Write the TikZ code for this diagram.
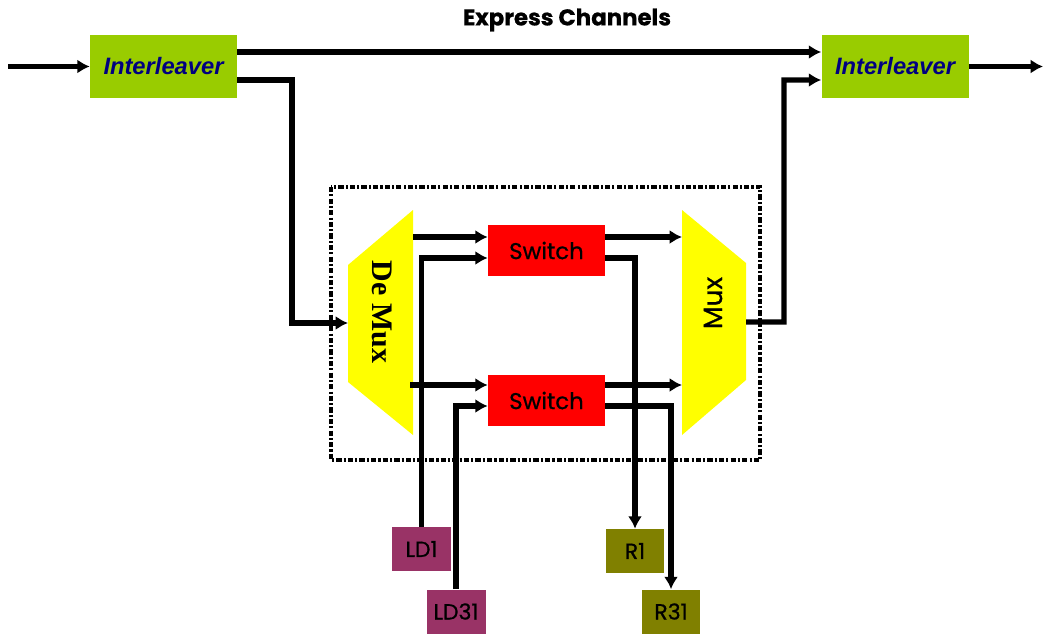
\documentclass[tikz,border=0pt]{standalone}
\usepackage{fontspec}
\setmainfont{Liberation Serif}
\newfontfamily\gothic[FakeBold=0.7]{Poppins}
\newfontfamily\arialfont{Liberation Sans}
\usetikzlibrary{arrows.meta}

\definecolor{ilgreen}{HTML}{99CC00}
\definecolor{ilblue}{HTML}{000080}
\definecolor{swred}{HTML}{FF0000}
\definecolor{muxyellow}{HTML}{FFFF00}
\definecolor{ldpurple}{HTML}{993366}
\definecolor{rolive}{HTML}{808000}

\begin{document}
\begin{tikzpicture}[
    x=0.02cm, y=-0.02cm,
    conn/.style={line width=3pt, -{Latex[length=7pt,width=8pt]}},
    ileave/.style={fill=ilgreen, inner sep=0pt, minimum width=2.94cm, minimum height=1.26cm, font=\arialfont\bfseries\itshape\fontsize{13.5}{15}\selectfont, text=ilblue},
    switchbox/.style={fill=swred, inner sep=0pt, minimum width=2.34cm, minimum height=1.02cm, font=\gothic\fontsize{13}{15}\selectfont},
    ldbox/.style={fill=ldpurple, inner sep=0pt, minimum width=1.18cm, minimum height=0.88cm, font=\gothic\fontsize{12.5}{14}\selectfont},
    rbox/.style={fill=rolive, inner sep=0pt, minimum width=1.16cm, minimum height=0.88cm, font=\gothic\fontsize{12.5}{14}\selectfont},
    frame/.style={line width=2.2pt, dash pattern=on 3pt off 1.2pt on 1.2pt off 1.2pt}
]
\useasboundingbox (0,0) rectangle (1043,635);

\node[font=\arialfont\bfseries\fontsize{13}{15}\selectfont] (title) at (567,20) {\gothic Express Channels};

% Interleavers
\node[ileave] (il1) at (163.5,66.5) {Interleaver};
\node[ileave] (il2) at (895,66.5) {Interleaver};

% add/drop part
\draw[frame] (331,187) rectangle (760,460);
\fill[muxyellow] (348,265) -- (413,210) -- (413,435) -- (348,382) -- cycle;
\fill[muxyellow] (682,210) -- (746,263) -- (746,380) -- (682,435) -- cycle;
\node[rotate=-90, font=\bfseries\fontsize{17}{19}\selectfont] (demux) at (382,312) {De Mux};
\node[rotate=90, font=\gothic\fontsize{15}{17}\selectfont] (mux) at (713,303) {Mux};

\node[switchbox] (sw1) at (546.5,250.5) {Switch};
\node[switchbox] (sw2) at (546.5,400.5) {Switch};

\node[ldbox] (ld1) at (421.5,549) {LD1};
\node[ldbox] (ld31) at (456,611.5) {LD31};
\node[rbox] (r1) at (635,551) {R1};
\node[rbox] (r31) at (671,611.5) {R31};

\coordinate (in) at (8,66.5);
\coordinate (out) at (1043,66.5);
\coordinate (dmxin) at (348,323);
\coordinate (dmxa) at (413,237);
\coordinate (dmxb) at (410,385);
\coordinate (mxa) at (682,237);
\coordinate (mxb) at (682,385);
\coordinate (mxout) at (746,322);

% Connections
\draw[conn] (in) -- (il1);
\draw[conn] ([yshift=0.29cm]il1.east) -- ([yshift=0.29cm]il2.west);
\draw[conn] ([yshift=-0.27cm]il1.east) -| (292,323) -- (dmxin);
\draw[conn] (dmxa) -- (dmxa -| sw1.west);
\draw[conn] (dmxb) -- (dmxb -| sw2.west);
\draw[conn] (ld1.north) |- ([yshift=-0.15cm]sw1.west);
\draw[conn] (ld31.north) |- ([yshift=-0.11cm]sw2.west);
\draw[conn] (sw1.east |- mxa) -- (mxa);
\draw[conn] (sw2.east |- mxb) -- (mxb);
\draw[conn] ([yshift=-0.15cm]sw1.east) -| (r1.north);
\draw[conn] ([yshift=-0.11cm]sw2.east) -| (r31.north);
\draw[conn] (mxout) -| (784,80) -- ([yshift=-0.27cm]il2.west);
\draw[conn] (il2) -- (out);

\end{tikzpicture}
\end{document}
